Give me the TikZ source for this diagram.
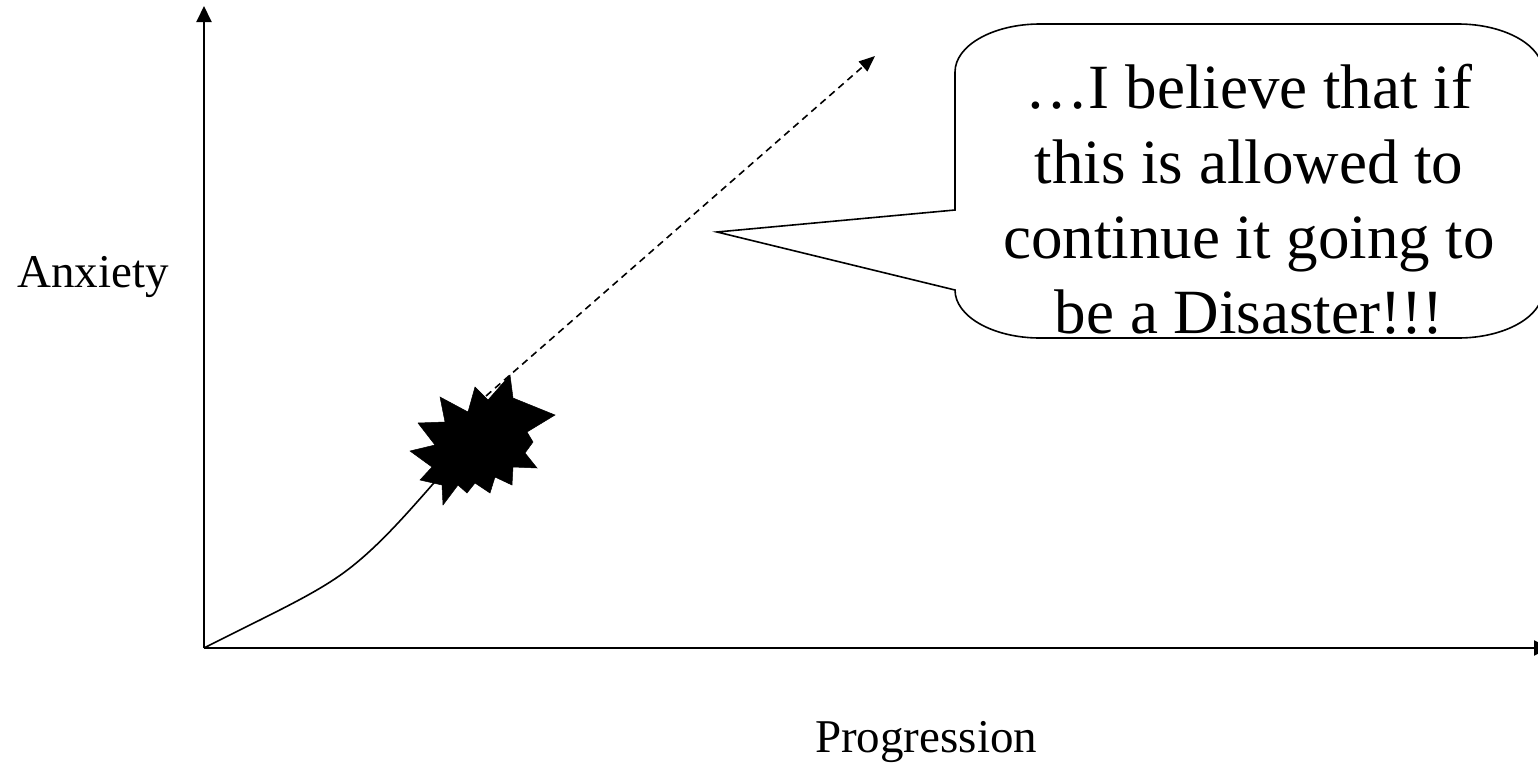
\documentclass[tikz,border=0pt]{standalone}
\usepackage{fontspec}
\setmainfont{Liberation Serif}
\usetikzlibrary{arrows.meta}
\begin{document}
\begin{tikzpicture}[x=1pt,y=-1pt,
  axisline/.style={line width=2pt,-{Triangle[length=16pt,width=15pt]}},
  curveline/.style={line width=1.6pt},
  dashline/.style={line width=1.6pt,dash pattern=on 7pt off 5pt,-{Triangle[length=16pt,width=13pt]}},
  calloutline/.style={line width=1.6pt,fill=white,line join=miter},
  bigtext/.style={font=\fontsize{63}{75}\selectfont,inner sep=0pt,anchor=base},
  labeltext/.style={font=\fontsize{47}{56}\selectfont,inner sep=0pt,anchor=base west},
  burstfill/.style={fill=black,draw=black,line width=0.5pt,line join=miter}]
\useasboundingbox (0,0) rectangle (1538,763);

% axes
\coordinate (O) at (204,648);
\coordinate (ytop) at (204,6);
\coordinate (xend) at (1550,648);
\draw[axisline] (O) -- (ytop);
\draw[axisline] (O) -- (xend);

% labels
\node[labeltext] (anx) at (17,287) {Anxiety};
\node[labeltext] (prog) at (815,752) {Progression};

% curve and dashed continuation
\coordinate (burst) at (440,476);
\coordinate (bend) at (350,568);
\coordinate (dstart) at (486,396);
\coordinate (dtip) at (875,56);
\draw[curveline] (O) .. controls (275,612) and (318,593) .. (bend)
  .. controls (382,543) and (410,510) .. (burst);
\draw[dashline] (dstart) -- (dtip);

% starburst
\filldraw[burstfill] (510,375) -- (513,398) -- (555,415) -- (527,432) -- (533,442)
  -- (525,453) -- (537,468) -- (513,467) -- (512,485) -- (495,477) -- (490,493)
  -- (475,483) -- (467,493) -- (458,485) -- (443,505) -- (442,485) -- (420,480)
  -- (432,467) -- (410,451) -- (435,445) -- (418,423) -- (445,422) -- (440,397)
  -- (468,412) -- (475,387) -- (488,400) -- cycle;

% callout
\coordinate (ptip) at (717,232);
\draw[calloutline] (955,72) -- (955,210) -- (ptip) -- (955,290)
  .. controls (955,316.5) and (993.1,338) .. (1040,338)
  -- (1458,338) .. controls (1504.9,338) and (1543,316.5) .. (1543,290)
  -- (1543,72) .. controls (1543,45.5) and (1504.9,24) .. (1458,24)
  -- (1040,24) .. controls (993.1,24) and (955,45.5) .. (955,72) -- cycle;
\node[bigtext] (l1) at (1249,108) {…I believe that if};
\node[bigtext] (l2) at (1249,183) {this is allowed to};
\node[bigtext] (l3) at (1249,258) {continue it going to};
\node[bigtext] (l4) at (1249,333) {be a Disaster!!!};
\end{tikzpicture}
\end{document}
